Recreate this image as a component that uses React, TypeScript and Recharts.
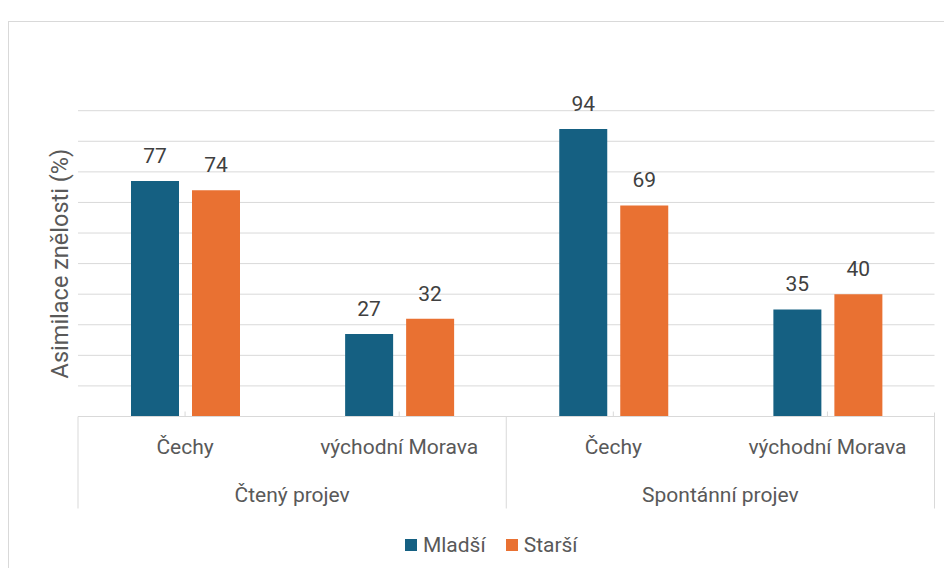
import React from 'react';
import {
  BarChart,
  Bar,
  XAxis,
  YAxis,
  CartesianGrid,
  Legend,
  LabelList,
} from 'recharts';

const regions = ['Čechy', 'východní Morava', 'Čechy', 'východní Morava'];
const speechTypes = ['Čtený projev', 'Čtený projev', 'Spontánní projev', 'Spontánní projev'];
const youngerValues = [77, 27, 94, 35];
const olderValues = [74, 32, 69, 40];
const yTicks = [0, 10, 20, 30, 40, 50, 60, 70, 80, 90, 100];

const series = [
  { key: 'mladsi', name: 'Mladší', color: '#156082' },
  { key: 'starsi', name: 'Starší', color: '#E97132' },
];

const data = regions.map((region, i) => ({
  region,
  group: speechTypes[i],
  mladsi: youngerValues[i],
  starsi: olderValues[i],
}));

const FONT = 'Roboto, "Noto Sans", sans-serif';
const AXIS_TEXT = '#595959';
const LINE = '#d9d9d9';
const AXIS_FONT_SIZE = 21;

function RegionTick(props: any) {
  const { x, y, payload, index } = props;
  const half = payload?.offset ?? 107;
  const isGroupStart = index === 0 || speechTypes[index] !== speechTypes[index - 1];
  const isLast = index === regions.length - 1;
  return (
    <g>
      <line x1={x} x2={x} y1={y - 5} y2={y} stroke={LINE} />
      {isGroupStart && (
        <line x1={x - half} x2={x - half} y1={y} y2={y + 92} stroke={LINE} />
      )}
      {isLast && (
        <line x1={x + half} x2={x + half} y1={y - 4} y2={y + 92} stroke={LINE} />
      )}
      <text
        x={x}
        y={y + 30}
        textAnchor="middle"
        dominantBaseline="central"
        fill={AXIS_TEXT}
        fontSize={AXIS_FONT_SIZE}
        fontFamily={FONT}
      >
        {payload.value}
      </text>
    </g>
  );
}

function GroupTick(props: any) {
  const { x, y, payload } = props;
  return (
    <text
      x={x}
      y={y + 23}
      textAnchor="middle"
      dominantBaseline="central"
      fill={AXIS_TEXT}
      fontSize={AXIS_FONT_SIZE}
      fontFamily={FONT}
    >
      {payload.value}
    </text>
  );
}

function EmptyTick() {
  return <g />;
}

function YLabel(props: any) {
  const { viewBox } = props;
  const cx = viewBox.x + viewBox.width - 18;
  const cy = viewBox.y + viewBox.height / 2;
  return (
    <text
      x={cx}
      y={cy}
      transform={`rotate(-90, ${cx}, ${cy})`}
      textAnchor="middle"
      dominantBaseline="central"
      fill={AXIS_TEXT}
      fontSize={23.5}
      fontFamily={FONT}
    >
      Asimilace znělosti (%)
    </text>
  );
}

function LegendContent() {
  return (
    <div
      style={{
        display: 'flex',
        justifyContent: 'center',
        alignItems: 'center',
        height: 30,
        paddingLeft: 39,
        fontFamily: FONT,
        fontSize: AXIS_FONT_SIZE,
        color: AXIS_TEXT,
      }}
    >
      {series.map((s, i) => (
        <div
          key={s.key}
          style={{ display: 'flex', alignItems: 'center', marginLeft: i === 0 ? 0 : 20 }}
        >
          <span style={{ width: 12, height: 12, background: s.color, marginRight: 6 }} />
          <span>{s.name}</span>
        </div>
      ))}
    </div>
  );
}

export default function App() {
  return (
    <div style={{ paddingTop: 13 }}>
      <div
        style={{
          width: 943,
          borderTop: `1px solid ${LINE}`,
          borderLeft: `1px solid ${LINE}`,
        }}
      >
        <BarChart
          width={943}
          height={546}
          data={data}
          margin={{ top: 88.7, right: 17.5, bottom: 8.5, left: 0 }}
          barCategoryGap={53}
          barGap={13}
        >
          <CartesianGrid vertical={false} stroke={LINE} />
          <YAxis
            width={69}
            domain={[0, 100]}
            ticks={yTicks}
            interval={0}
            tick={<EmptyTick />}
            axisLine={false}
            tickLine={false}
            label={<YLabel />}
          />
          <XAxis
            dataKey="region"
            height={55}
            axisLine={{ stroke: LINE }}
            tickLine={false}
            tickSize={0}
            tickMargin={0}
            interval={0}
            tick={<RegionTick />}
          />
          <XAxis
            xAxisId="group"
            dataKey="group"
            allowDuplicatedCategory={false}
            height={58}
            axisLine={false}
            tickLine={false}
            tickSize={0}
            tickMargin={0}
            interval={0}
            tick={<GroupTick />}
          />
          <Legend verticalAlign="bottom" height={30} content={<LegendContent />} />
          {series.map((s) => (
            <Bar
              key={s.key}
              dataKey={s.key}
              name={s.name}
              fill={s.color}
              isAnimationActive={false}
            >
              <LabelList
                dataKey={s.key}
                position="top"
                offset={18}
                fill="#404040"
                fontSize={21}
                fontFamily={FONT}
              />
            </Bar>
          ))}
        </BarChart>
      </div>
    </div>
  );
}
